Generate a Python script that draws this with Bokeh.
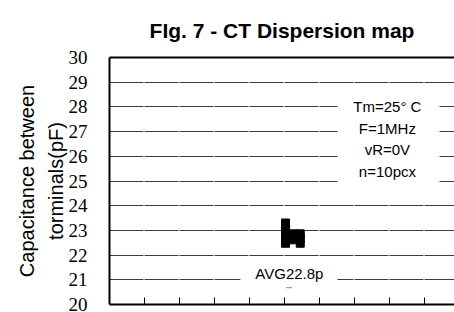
from bokeh.plotting import figure
from bokeh.models import (Range1d, FixedTicker, LinearAxis, BoxAnnotation, Label, Title,
                          ColumnDataSource, CustomJSTickFormatter)
from bokeh.embed import file_html
from bokeh.resources import INLINE

# ---- data ----
title_text = "FIg. 7 - CT Dispersion map"
y_label_1 = "Capacitance between"
y_label_2 = "torminals(pF)"
y_ticks = [20, 21, 22, 23, 24, 25, 26, 27, 28, 29, 30]
x_ticks = [1, 2, 3, 4, 5, 6, 7, 8, 9]
sample_x = [5.03, 5.03, 5.03, 5.03, 5.03, 5.25, 5.25, 5.45, 5.45, 5.45]
sample_y = [23.30, 23.08, 22.86, 22.66, 22.48, 22.86, 22.62, 22.86, 22.66, 22.48]
cond_lines = ["Tm=25\u00b0 C", "F=1MHz", "vR=0V", "n=10pcx"]
cond_y = [28.0, 27.12, 26.28, 25.4]
avg_text = "AVG22.8p"
avg_value = 21.24

FONT = "Liberation Sans"

p = figure(width=454, height=312, output_backend="svg", toolbar_location=None,
           x_range=Range1d(0, 9.857), y_range=Range1d(20, 30),
           min_border_left=109, min_border_right=0, min_border_top=54,
           min_border_bottom=8)
p.outline_line_color = None
p.background_fill_color = "white"
p.border_fill_color = "white"

# title
p.title.text = title_text
p.title.align = "center"
p.title.text_font = FONT
p.title.text_font_style = "bold"
p.title.text_font_size = "21px"
p.title.text_color = "black"
p.title.standoff = 32

# y axis
ya = p.yaxis[0]
ya.ticker = FixedTicker(ticks=y_ticks)
ya.axis_line_width = 2
ya.axis_line_color = "black"
ya.major_tick_line_color = None
ya.minor_tick_line_color = None
ya.major_label_text_font = "Liberation Serif"
ya.major_label_text_font_size = "19px"
ya.major_label_text_color = "black"
ya.major_label_standoff = 16

p.add_layout(Title(text=y_label_2, align="center", text_font=FONT, text_font_size="20px",
                   text_font_style="normal", text_color="black", standoff=-3), "left")
p.add_layout(Title(text=y_label_1, align="center", text_font=FONT, text_font_size="20px",
                   text_font_style="normal", text_color="black", standoff=13), "left")

empty = CustomJSTickFormatter(code="return ''")

# x axis
xa = p.xaxis[0]
xa.ticker = FixedTicker(ticks=x_ticks)
xa.formatter = empty
xa.axis_line_width = 2
xa.axis_line_color = "black"
xa.major_tick_in = 7
xa.major_tick_out = 0
xa.major_tick_line_color = "black"
xa.minor_tick_line_color = None
xa.major_label_standoff = 0

# top border axis
top = LinearAxis(ticker=FixedTicker(ticks=[]), formatter=empty, axis_line_width=2,
                 axis_line_color="black", major_tick_line_color=None,
                 minor_tick_line_color=None, major_label_standoff=0)
p.add_layout(top, "above")

# grid
p.xgrid.grid_line_color = None
p.ygrid.ticker = FixedTicker(ticks=y_ticks[1:-1])
p.ygrid.grid_line_color = "#3a3a3a"
p.ygrid.grid_line_width = 1
p.ygrid.grid_line_dash = "34 1"

# white boxes behind annotations
p.add_layout(BoxAnnotation(left=6.51, right=9.43, top=28.4, bottom=24.6,
                           fill_color="white", fill_alpha=1, line_color=None))
p.add_layout(BoxAnnotation(left=3.74, right=6.51, top=21.7, bottom=20.8,
                           fill_color="white", fill_alpha=1, line_color=None))

for t, yy in zip(cond_lines, cond_y):
    p.add_layout(Label(x=7.94, y=yy, text=t, text_align="center", text_baseline="middle",
                       text_font=FONT, text_font_size="15px", text_color="black"))

p.add_layout(Label(x=5.14, y=avg_value, text=avg_text, text_align="center",
                   text_baseline="middle", text_font=FONT,
                   text_font_size="15px", text_color="black"))
p.segment(x0=[5.05], y0=[20.68], x1=[5.22], y1=[20.68], line_color="#888888", line_width=1)

src = ColumnDataSource(dict(x=sample_x, y=sample_y))
p.scatter("x", "y", source=src, marker="square", size=8, fill_color="black",
          line_color="black")

open("out.html", "w").write(file_html(p, INLINE))
